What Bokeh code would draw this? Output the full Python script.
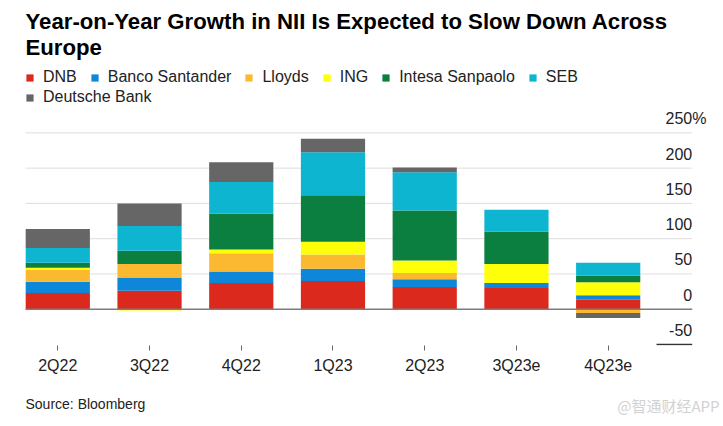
from bokeh.plotting import figure
from bokeh.models import (Range1d, FixedTicker, Label, Legend, LegendItem, ColumnDataSource)
from bokeh.layouts import column
from bokeh.embed import file_html
from bokeh.resources import INLINE
import numpy as np

# ---------------- data ----------------
quarters = ["2Q22", "3Q22", "4Q22", "1Q23", "2Q23", "3Q23e", "4Q23e"]
banks = ["DNB", "Banco Santander", "Lloyds", "ING", "Intesa Sanpaolo", "SEB", "Deutsche Bank"]
dnb = [23, 26, 37, 40, 31.5, 30, 13.5]
santander = [16, 19, 16.5, 17.5, 11, 7, 6.2]
lloyds = [16.5, 19, 26, 20, 9, 0, -5.5]
ing = [3.3, -2, 5, 18, 17.5, 27, 18.5]
intesa = [7, 19, 51, 66, 71, 46, 9.3]
seb = [21, 35, 45, 61, 54, 31, 18.5]
deutsche = [27, 32, 28, 19, 7, 0, -7]
colors = ["#dc291e", "#0f87d9", "#fbb932", "#ffff0a", "#0b7f3f", "#0db5d0", "#666666"]
ytick_values = [-50, 0, 50, 100, 150, 200, 250]
ytick_labels = ["-50", "0", "50", "100", "150", "200", "250"]
grid_values = [50, 100, 150, 200, 250]

title_lines = ["Year-on-Year Growth in NII Is Expected to Slow Down Across", "Europe"]
source_text = "Source: Bloomberg"
watermark = "@智通财经APP"

series = [dnb, santander, lloyds, ing, intesa, seb, deutsche]

# ---------------- layout constants (pixels) ----------------
FONT = "Liberation Sans"
W = 720
FRAME_H = 345          # frame covers title/legend/plot area
PX_X = 91.73           # pixels per category
X0_PX = 57.3           # pixel centre of first category
PX_Y = 0.7053          # pixels per percentage point
ZERO_PX = 308.7        # pixel row of zero
GRID_L, GRID_R = 25, 691.7

def xdata(px):
    return (px - X0_PX) / PX_X

def ydata(py):
    return (ZERO_PX - py) / PX_Y

x_idx = list(range(len(quarters)))

p = figure(width=W, height=380, min_border_left=0, min_border_right=0, min_border_top=0,
           min_border_bottom=35,
           x_range=Range1d(xdata(0), xdata(W)), y_range=Range1d(ydata(FRAME_H), ydata(0)),
           y_axis_location=None, toolbar_location=None, output_backend="svg")
p.outline_line_color = None
p.xgrid.grid_line_color = None
p.ygrid.grid_line_color = None
p.background_fill_color = "white"
p.border_fill_color = "white"

# gridlines
p.segment(x0=[xdata(GRID_L)] * len(grid_values), x1=[xdata(GRID_R)] * len(grid_values),
          y0=grid_values, y1=grid_values, line_color="#dedede", line_width=1)

# stacked bars with positive / negative stacks
pos_base = np.zeros(len(quarters))
neg_base = np.zeros(len(quarters))
renderers = []
for name, vals, col in zip(banks, series, colors):
    v = np.array(vals, dtype=float)
    bottom = np.where(v >= 0, pos_base, neg_base)
    top = bottom + v
    pos_base = np.where(v >= 0, top, pos_base)
    neg_base = np.where(v < 0, top, neg_base)
    src = ColumnDataSource(dict(x=x_idx, top=top, bottom=bottom))
    r = p.vbar(x="x", top="top", bottom="bottom", width=0.7, source=src,
               fill_color=col, line_color=None)
    renderers.append(r)

# zero line and short baseline under the lowest label
p.segment(x0=[xdata(GRID_L)], x1=[xdata(GRID_R)], y0=[0], y1=[0],
          line_color="#7d7d7d", line_width=1.5)
p.segment(x0=[xdata(656)], x1=[xdata(GRID_R)], y0=[ytick_values[0]], y1=[ytick_values[0]],
          line_color="#333333", line_width=1.5)

# x axis
ax = p.xaxis[0]
ax.ticker = FixedTicker(ticks=x_idx)
ax.major_label_overrides = {i: q for i, q in enumerate(quarters)}
ax.axis_line_color = None
ax.major_tick_in = 0
ax.major_tick_out = 5
ax.major_tick_line_color = "#666666"
ax.minor_tick_line_color = None
ax.major_label_standoff = 6
ax.major_label_text_font = FONT
ax.major_label_text_font_size = "16px"
ax.major_label_text_color = "#222222"

# y tick labels (inside the frame, above their gridlines)
for v, t in zip(ytick_values, ytick_labels):
    p.add_layout(Label(x=GRID_R, y=v, x_units="screen", y_units="data", text=t,
                       text_align="right", text_baseline="middle", y_offset=14.5,
                       text_font=FONT, text_font_size="16px", text_color="#222222"))
p.add_layout(Label(x=GRID_R, y=ytick_values[-1], x_units="screen", y_units="data", text="%",
                   text_align="left", text_baseline="middle", y_offset=14.5,
                   text_font=FONT, text_font_size="16px", text_color="#222222"))

# title (screen units: from frame bottom-left), vertical centres in pixels from top
for line, mid_px in zip(title_lines, [20.8, 47.3]):
    p.add_layout(Label(x=25, y=FRAME_H - mid_px, x_units="screen", y_units="screen", text=line,
                       text_align="left", text_baseline="middle",
                       text_font=FONT, text_font_style="bold", text_font_size="22.2px",
                       text_color="#000000"))

# legends
items = [LegendItem(label=b, renderers=[r]) for b, r in zip(banks, renderers)]
common = dict(orientation="horizontal", glyph_width=9, glyph_height=9, label_height=9,
              label_standoff=9, spacing=13, padding=0, margin=0,
              border_line_color=None, background_fill_alpha=0,
              label_text_font=FONT, label_text_font_size="16px", label_text_color="#222222")
leg1 = Legend(items=items[:6], location=(25, FRAME_H - 86), **common)
leg2 = Legend(items=items[6:], location=(25, FRAME_H - 106), **common)
p.add_layout(leg1)
p.add_layout(leg2)

# footer figure: source + watermark
FOOT_H = 44
f = figure(width=W, height=FOOT_H, min_border_left=0, min_border_right=0, min_border_top=0,
           min_border_bottom=0, x_range=Range1d(0, W), y_range=Range1d(0, FOOT_H),
           x_axis_location=None, y_axis_location=None, toolbar_location=None,
           output_backend="svg")
f.outline_line_color = None
f.xgrid.grid_line_color = None
f.ygrid.grid_line_color = None
f.add_layout(Label(x=25, y=424 - 403, x_units="screen", y_units="screen", text=source_text,
                   text_align="left", text_baseline="middle",
                   text_font=FONT, text_font_size="14px", text_color="#222222"))
f.add_layout(Label(x=719, y=424 - 405, x_units="screen", y_units="screen", text=watermark,
                   text_align="right", text_baseline="middle",
                   text_font="Noto Sans CJK SC", text_font_size="15px", text_color="#d2d2d2"))

layout = column(p, f, spacing=0)
open("out.html", "w").write(file_html(layout, INLINE))
